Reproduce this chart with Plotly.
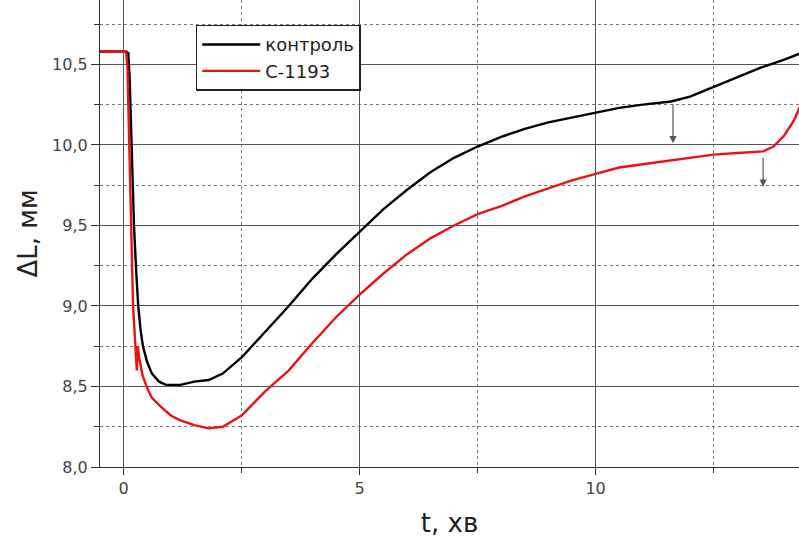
import plotly.graph_objects as go

# Time, min
t_control = [-0.5, 0.05, 0.1, 0.13, 0.17, 0.22, 0.27, 0.31, 0.36, 0.41, 0.5, 0.6, 0.75, 0.9,
             1.2, 1.5, 1.8, 2.1, 2.5, 3.0, 3.5, 4.0, 4.5, 5.0, 5.5, 6.0, 6.5, 7.0, 7.5, 8.0,
             8.5, 9.0, 9.5, 10.0, 10.5, 11.0, 11.6, 12.0, 12.5, 13.0, 13.5, 14.0, 14.35]
dl_control = [10.58, 10.58, 10.57, 10.4, 10.0, 9.5, 9.2, 9.0, 8.85, 8.75, 8.65, 8.58, 8.53, 8.51,
              8.51, 8.53, 8.54, 8.58, 8.68, 8.84, 9.0, 9.17, 9.32, 9.46, 9.6, 9.72, 9.83, 9.92,
              9.99, 10.05, 10.1, 10.14, 10.17, 10.2, 10.23, 10.25, 10.27, 10.3, 10.36, 10.42,
              10.48, 10.53, 10.57]

t_c1193 = [-0.5, 0.05, 0.08, 0.1, 0.12, 0.16, 0.2, 0.23, 0.26, 0.28, 0.3, 0.33, 0.4, 0.5, 0.6,
           0.77, 1.0, 1.2, 1.5, 1.8, 2.1, 2.5, 3.0, 3.5, 4.0, 4.5, 5.0, 5.5, 6.0, 6.5, 7.0, 7.5,
           8.0, 8.5, 9.0, 9.5, 10.0, 10.5, 11.0, 11.5, 12.0, 12.5, 13.0, 13.55, 13.77, 14.0,
           14.2, 14.35]
dl_c1193 = [10.58, 10.58, 10.5, 10.3, 10.0, 9.5, 9.0, 8.85, 8.72, 8.6, 8.75, 8.68, 8.57, 8.49,
            8.43, 8.38, 8.32, 8.29, 8.26, 8.24, 8.25, 8.32, 8.47, 8.6, 8.77, 8.93, 9.07, 9.2,
            9.32, 9.42, 9.5, 9.57, 9.62, 9.68, 9.73, 9.78, 9.82, 9.86, 9.88, 9.9, 9.92, 9.94,
            9.95, 9.96, 9.99, 10.06, 10.15, 10.25]

x_ticks = [0, 5, 10]
x_tick_labels = ["0", "5", "10"]
y_ticks = [8.0, 8.5, 9.0, 9.5, 10.0, 10.5]
y_tick_labels = ["8,0", "8,5", "9,0", "9,5", "10,0", "10,5"]

# Arrows marking the onset of the final rise: (t, from dl, to dl)
arrows = [(11.64, 10.26, 10.01), (13.55, 9.93, 9.74)]

fig = go.Figure()
fig.add_trace(go.Scatter(x=t_control, y=dl_control, mode="lines", name="контроль",
                         line=dict(color="black", width=2.4)))
fig.add_trace(go.Scatter(x=t_c1193, y=dl_c1193, mode="lines", name="С-1193",
                         line=dict(color="#ee1111", width=2.4)))

for tx, y0, y1 in arrows:
    fig.add_annotation(x=tx, y=y1, ax=tx, ay=y0, xref="x", yref="y", axref="x", ayref="y",
                       showarrow=True, arrowhead=2, arrowsize=1.2, arrowwidth=1.2,
                       arrowcolor="#555555", text="")

font_family = "DejaVu Sans, Arial, sans-serif"
grid_col = "#555555"
tick_font = dict(family=font_family, size=16, color="#444444")
title_font = dict(family=font_family, size=26, color="#222222")

fig.update_xaxes(
    range=[-0.5, 14.31], tickvals=x_ticks, ticktext=x_tick_labels,
    ticks="outside", ticklen=7, tickcolor="#333333", tickfont=tick_font,
    showline=True, linecolor="#333333", linewidth=1.2,
    showgrid=True, gridcolor=grid_col, gridwidth=1, zeroline=False,
    minor=dict(dtick=2.5, tick0=0, ticks="outside", ticklen=5, tickcolor="#333333",
               showgrid=True, gridcolor="#777777", griddash="dot", gridwidth=1),
    title=dict(text="t, хв", font=title_font, standoff=16),
)
fig.update_yaxes(
    range=[8.0, 10.9], tickvals=y_ticks, ticktext=y_tick_labels,
    ticks="outside", ticklen=8, tickcolor="#333333", tickfont=tick_font,
    showline=True, linecolor="#333333", linewidth=1.2,
    showgrid=True, gridcolor=grid_col, gridwidth=1, zeroline=False,
    minor=dict(dtick=0.25, tick0=0, ticks="outside", ticklen=5, tickcolor="#333333",
               showgrid=True, gridcolor="#777777", griddash="dot", gridwidth=1),
    title=dict(text="ΔL, мм", font=title_font, standoff=6),
)

fig.update_layout(
    width=799, height=541,
    margin=dict(l=100, r=0, t=0, b=74),
    plot_bgcolor="white", paper_bgcolor="white",
    showlegend=True,
    legend=dict(x=0.137, y=0.947, xanchor="left", yanchor="top",
                bgcolor="white", bordercolor="#222222", borderwidth=1.5,
                font=dict(family=font_family, size=18, color="#222222"),
                itemwidth=58, tracegroupgap=0),
)

fig.write_html("out.html")
